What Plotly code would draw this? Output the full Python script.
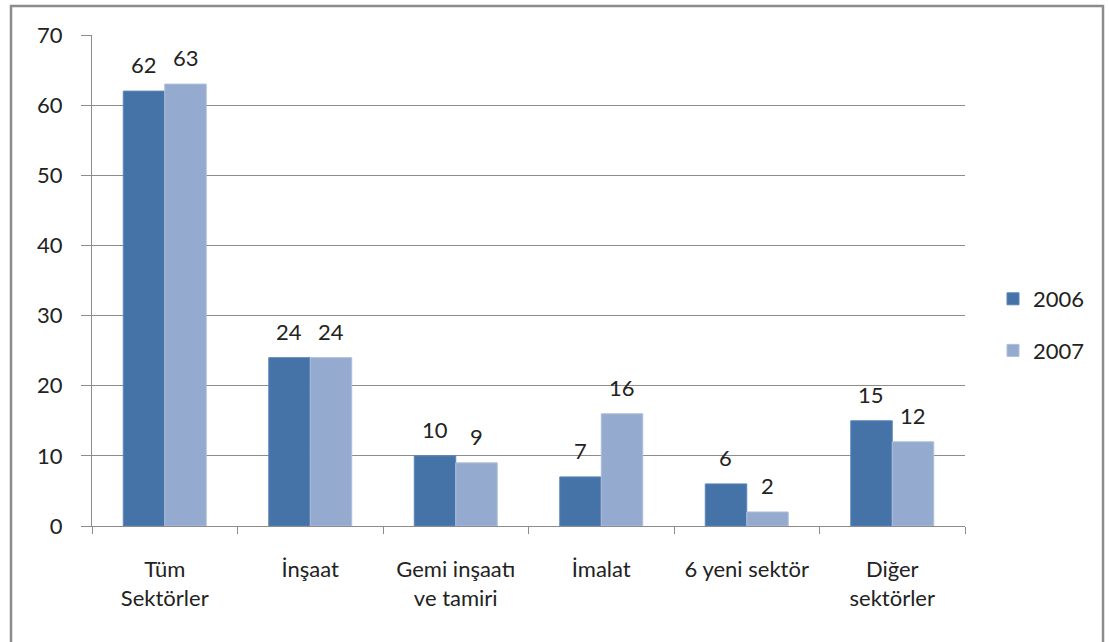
import plotly.graph_objects as go

categories = ["Tüm<br>Sektörler", "İnşaat", "Gemi inşaatı<br>ve tamiri", "İmalat", "6 yeni sektör", "Diğer<br>sektörler"]
values_2006 = [62, 24, 10, 7, 6, 15]
values_2007 = [63, 24, 9, 16, 2, 12]
y_ticks = [0, 10, 20, 30, 40, 50, 60, 70]

FONT = "Lato, 'Open Sans', sans-serif"
FS = 22
W, H = 1109, 642
L, R, T, B = 92, 144, 35, 116
pw, ph = W - L - R, H - T - B
BAR_HALF = 21  # pixel offset of each bar centre from the category centre

def px(x):
    return (x - L) / pw

def py(y):
    return (H - B - y) / ph

fig = go.Figure()
fig.add_trace(go.Bar(name="2006", x=categories, y=values_2006,
                     marker=dict(color="#4572A7", line=dict(color="#5b86b8", width=1)),
                     legendgroup="a"))
fig.add_trace(go.Bar(name="2007", x=categories, y=values_2007,
                     marker=dict(color="#95AACF", line=dict(color="#aebedc", width=1)),
                     legendgroup="b"))

annotations = []
for vals, shift in ((values_2006, -BAR_HALF), (values_2007, BAR_HALF)):
    for c, v in zip(categories, vals):
        annotations.append(dict(x=c, y=v, xref="x", yref="y", text=str(v), showarrow=False,
                                xshift=shift, yshift=11, yanchor="bottom",
                                font=dict(size=FS, family=FONT, color="#222")))

fig.update_layout(
    width=W, height=H,
    margin=dict(l=L, r=R, t=T, b=B, autoexpand=False),
    paper_bgcolor="white", plot_bgcolor="white",
    barmode="group", bargap=0.43, bargroupgap=0,
    font=dict(family=FONT, size=FS, color="#222"),
    showlegend=True,
    legend=dict(x=px(993), y=py(325), xanchor="left", yanchor="middle",
                font=dict(size=FS, family=FONT, color="#222"), tracegroupgap=20,
                bgcolor="rgba(0,0,0,0)"),
    xaxis=dict(showline=True, linecolor="#8c8c8c", linewidth=1, ticks="outside", tickson="boundaries",
               ticklen=7, tickcolor="#8c8c8c", showgrid=False, tickfont=dict(size=FS, family=FONT),
               ticklabelstandoff=24),
    yaxis=dict(range=[0, 70], tickvals=y_ticks, showline=True, linecolor="#8c8c8c", linewidth=1,
               ticks="outside", ticklen=10, tickcolor="#8c8c8c", showgrid=True, gridcolor="#8c8c8c",
               gridwidth=1, zeroline=False, tickfont=dict(size=FS, family=FONT), ticklabelstandoff=14),
    annotations=annotations,
    shapes=[dict(type="rect", xref="paper", yref="paper", x0=px(11), x1=px(1103), y0=py(660), y1=py(6),
                 line=dict(color="#8c8c8c", width=2.5), fillcolor="rgba(0,0,0,0)", layer="below")],
)

fig.write_html("out.html", config={"displayModeBar": False},
               post_script="document.body.style.margin='0';document.body.style.overflow='hidden';")
